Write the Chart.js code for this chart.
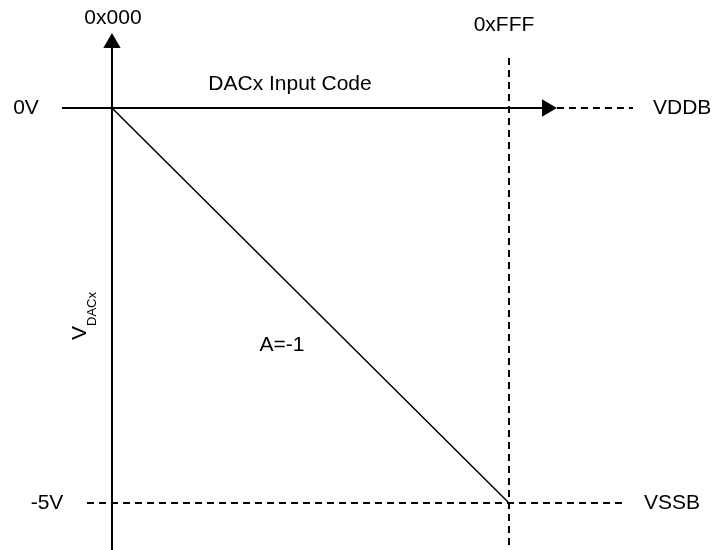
<!DOCTYPE html>
<html>
<head>
<meta charset="utf-8">
<script src="https://cdn.jsdelivr.net/npm/chart.js@4"></script>
<style>
  html, body { margin: 0; padding: 0; background: #fff; }
  canvas { display: block; }
</style>
</head>
<body>
<canvas id="grafico" width="712" height="550"></canvas>
<script>
// Transferência do DAC: código 0x000..0xFFF -> VDACx de 0V a -5V (ganho A = -1)
const codigos = [0, 4095];
const tensoes = [0, -5];
const rotulosCodigo = ["0x000", "0xFFF"];
const rotulosTensao = ["0V", "-5V"];
const rotulosTrilho = ["VDDB", "VSSB"];
const rotuloGanho = "A=-1";
const tituloEixoX = "DACx Input Code";

// extensão dos eixos e linhas-guia (unidades de dado)
const eixoCodigoX = [-516, 4487];   // termina no centro da seta
const eixoTensaoY = [-5.6, 0.823];
const extensaoVDDB = [4590, 5374];
const guiaFFF = [0.633, -5.6];
const guiaVSSB = [-258, 5260];

const PRETO = "#000";
const FONTE = '"Liberation Sans", Arial, Helvetica, sans-serif';

function pts(xs, ys) {
  return xs.map((x, i) => ({ x, y: ys[i] }));
}

// --------------------------------------------------------------- textos
const rotulos = {
  id: "rotulos",
  afterDatasetsDraw(chart) {
    const { ctx, scales: { x, y } } = chart;
    const px = (v) => x.getPixelForValue(v);
    const py = (v) => y.getPixelForValue(v);
    ctx.save();
    ctx.fillStyle = PRETO;
    ctx.font = `21px ${FONTE}`;
    ctx.textBaseline = "middle";
    ctx.textAlign = "center";
    ctx.fillText(rotulosCodigo[0], px(codigos[0]) + 1, 18);
    ctx.fillText(rotulosCodigo[1], px(codigos[1]) - 5, 25);
    ctx.fillText(tituloEixoX, 290, py(tensoes[0]) - 24);
    ctx.fillText(rotulosTensao[0], 26, py(tensoes[0]));
    ctx.fillText(rotulosTensao[1], 47, py(tensoes[1]));
    ctx.fillText(rotuloGanho, 282, 345);
    ctx.textAlign = "left";
    ctx.fillText(rotulosTrilho[0], 653, py(tensoes[0]));
    ctx.fillText(rotulosTrilho[1], 644, py(tensoes[1]));

    // V com subscrito DACx, girado
    ctx.translate(86, 340);
    ctx.rotate(-Math.PI / 2);
    ctx.textBaseline = "alphabetic";
    ctx.fillText("V", 0, 0);
    const w = ctx.measureText("V").width;
    ctx.font = `13px ${FONTE}`;
    ctx.fillText("DACx", w, 10);
    ctx.restore();
  },
};

const linha = (data, extra = {}) => ({
  data,
  showLine: true,
  borderColor: PRETO,
  backgroundColor: PRETO,
  borderWidth: 2,
  pointRadius: 0,
  pointHoverRadius: 0,
  tension: 0,
  ...extra,
});

const seta = (rot) => ({
  pointRadius: [0, 10],
  pointStyle: "triangle",
  pointRotation: rot,
  pointBackgroundColor: PRETO,
  pointBorderColor: PRETO,
  pointBorderWidth: 0,
});

new Chart(document.getElementById("grafico"), {
  type: "scatter",
  data: {
    datasets: [
      linha(pts(extensaoVDDB, [tensoes[0], tensoes[0]]), { borderDash: [7, 5] }),
      linha(pts([codigos[1], codigos[1]], guiaFFF), { borderDash: [7, 5] }),
      linha(pts(guiaVSSB, [tensoes[1], tensoes[1]]), { borderDash: [7, 5] }),
      linha(pts(eixoCodigoX, [tensoes[0], tensoes[0]]), seta(90)),
      linha(pts([codigos[0], codigos[0]], eixoTensaoY), seta(0)),
      linha(pts(codigos, tensoes), { borderWidth: 1.5 }),
    ],
  },
  options: {
    responsive: false,
    animation: false,
    events: [],
    layout: { padding: 0, autoPadding: false },
    plugins: { legend: { display: false }, tooltip: { enabled: false } },
    scales: {
      x: { type: "linear", display: false, min: -1155, max: 6189 },
      y: { type: "linear", display: false, min: -5.595, max: 1.367 },
    },
  },
  plugins: [rotulos],
});
</script>
</body>
</html>
